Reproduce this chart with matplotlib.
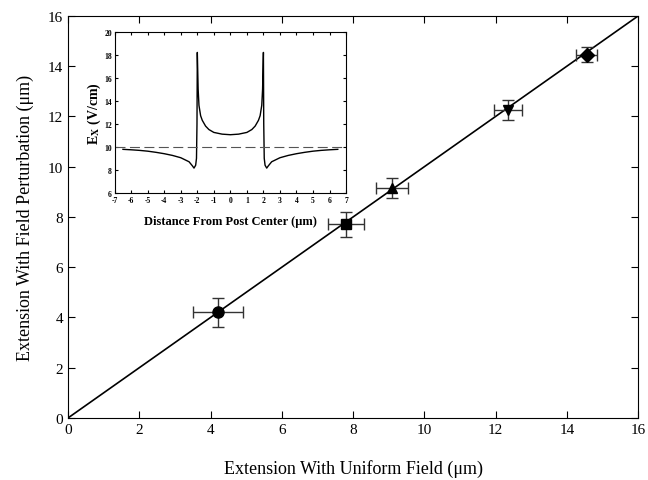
import numpy as np
import matplotlib.pyplot as plt

plt.rcParams['font.family'] = ['Liberation Serif', 'DejaVu Serif']
plt.rcParams['mathtext.fontset'] = 'stix'
plt.rcParams['axes.unicode_minus'] = False

# main data: extension with uniform field vs with field perturbation (um)
ext_uniform = [4.2, 7.8, 9.1, 12.35, 14.55]
ext_perturbed = [4.2, 7.7, 9.15, 12.25, 14.45]
xerr = [0.7, 0.5, 0.45, 0.4, 0.3]
yerr = [0.58, 0.5, 0.38, 0.4, 0.3]
markers = ['o', 's', '^', 'v', 'D']
marker_sizes = [8, 7, 7, 7, 7]
fit_x = [0, 16]
fit_y = [0, 16]

# inset: E_x along distance from post center
dist = [-6.5, -6.0, -5.5, -5.0, -4.5, -4.0, -3.5, -3.0, -2.5, -2.3, -2.2, -2.1, -2.05, -2.02, -2.0,
        -1.95, -1.9, -1.8, -1.7, -1.5, -1.3, -1.0, -0.5, 0.0,
        0.5, 1.0, 1.3, 1.5, 1.7, 1.8, 1.9, 1.95, 2.0,
        2.02, 2.05, 2.1, 2.2, 2.3, 2.5, 3.0, 3.5, 4.0, 4.5, 5.0, 5.5, 6.0, 6.5]
e_x = [9.78, 9.74, 9.69, 9.62, 9.52, 9.4, 9.25, 9.05, 8.7, 8.35, 8.15, 8.4, 9.0, 12.0, 18.2,
       15.0, 13.6, 12.7, 12.3, 11.8, 11.5, 11.25, 11.1, 11.05,
       11.1, 11.25, 11.5, 11.8, 12.3, 12.7, 13.6, 15.0, 18.2,
       12.0, 9.0, 8.4, 8.15, 8.35, 8.7, 9.05, 9.25, 9.4, 9.52, 9.62, 9.69, 9.74, 9.78]
uniform_level = 10

fig = plt.figure(figsize=(6.48, 4.81), dpi=100)
ax = fig.add_axes([0.105, 0.129, 0.88, 0.836])

ax.plot(fit_x, fit_y, color='black', lw=1.2)
for x, y, dx, dy, m, ms in zip(ext_uniform, ext_perturbed, xerr, yerr, markers, marker_sizes):
    ax.errorbar(x, y, xerr=dx, yerr=dy, fmt=m, color='black', ms=ms,
                ecolor='#333333', elinewidth=1.0, capsize=4, capthick=1.0)

ax.set_xlim(0, 16)
ax.set_ylim(0, 16)
ax.set_xticks(np.arange(0, 17, 2))
ax.set_yticks(np.arange(0, 17, 2))
ax.tick_params(direction='in', length=5, top=True, right=True, labelsize=11)
ax.set_xlabel('Extension With Uniform Field (\u03bcm)', fontsize=13, labelpad=17)
ax.set_ylabel('Extension With Field Perturbation (\u03bcm)', fontsize=13, labelpad=10)

# inset
ins = fig.add_axes([0.177, 0.597, 0.357, 0.335])
ins.plot(dist, e_x, color='black', lw=1.0)
ins.axhline(uniform_level, color='#555555', lw=0.8, dashes=(9, 4))
ins.set_xlim(-7, 7)
ins.set_ylim(6, 20)
ins.set_xticks(np.arange(-7, 8, 1))
ins.set_yticks(np.arange(6, 21, 2))
ins.tick_params(direction='in', length=2.5, top=True, right=True, labelsize=5.5, pad=2)
for lab in ins.get_xticklabels() + ins.get_yticklabels():
    lab.set_fontweight('bold')
ins.set_xlabel('Distance From Post Center (\u03bcm)', fontsize=9, fontweight='bold', labelpad=8)
ins.set_ylabel('E$_{\\mathbf{X}}$ (V/cm)', fontsize=10, fontweight='bold', labelpad=1)

fig.savefig('out.png', dpi=100)
